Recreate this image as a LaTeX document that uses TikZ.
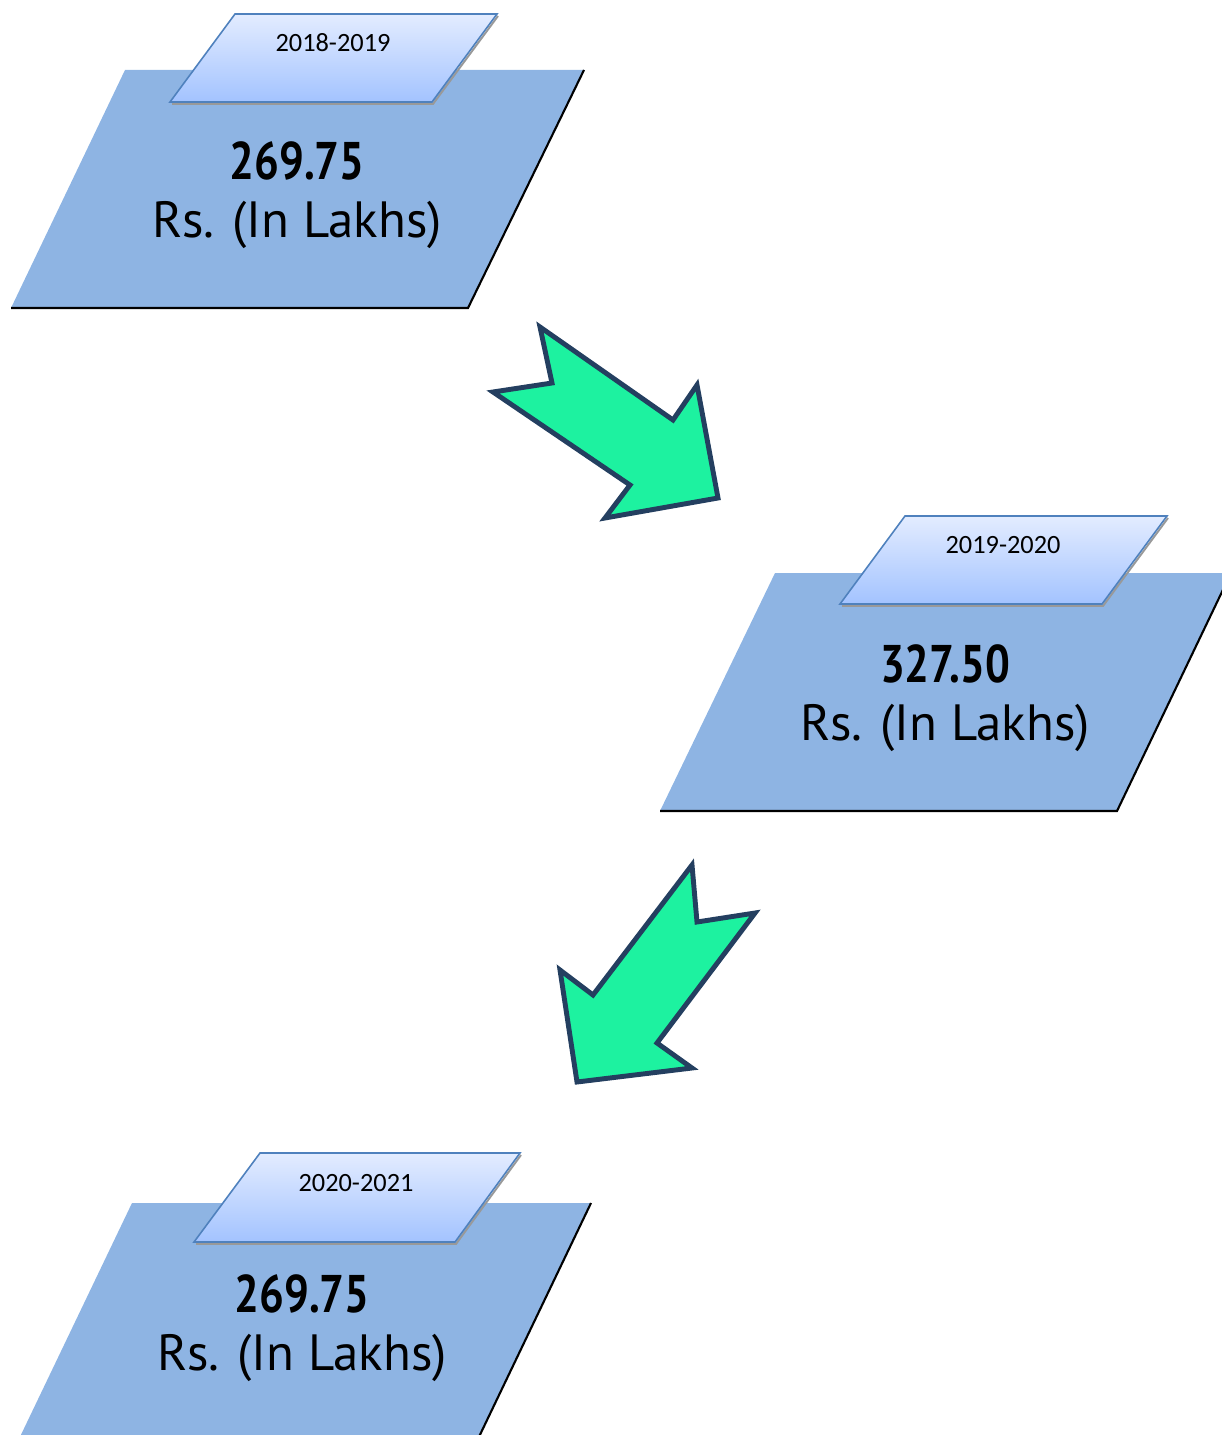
\documentclass[tikz,border=0pt]{standalone}
\usepackage{graphicx}
\usepackage{fontspec}
\setmainfont{PT Sans}
\newfontfamily\yearfont{Carlito}
\definecolor{slabblue}{HTML}{8EB4E3}
\definecolor{tabtop}{HTML}{E3ECFF}
\definecolor{tabbot}{HTML}{A3C3FF}
\definecolor{tabline}{HTML}{4F81BD}
\definecolor{arrowgreen}{HTML}{1DF2A0}
\definecolor{arrowline}{HTML}{243F60}
\begin{document}
\begin{tikzpicture}[x=0.02cm,y=-0.02cm,
  slab/.style={fill=slabblue},
  slabedge/.style={draw=black,line width=1.2pt},
  tab/.style={top color=tabtop,bottom color=tabbot,draw=tabline,line width=0.9pt},
  tabshadow/.style={draw=black!40,line width=1.1pt},
  bigarrow/.style={fill=arrowgreen,draw=arrowline,line width=2.8pt,line join=miter},
  amount/.style={font=\fontsize{29}{33}\selectfont,align=center},
  year/.style={font=\yearfont\fontsize{15}{17}\selectfont}]
  \useasboundingbox (0,0) rectangle (1222,1435);
  \clip (0,0) rectangle (1222,1435);

  % 2018-2019
  \fill[slab] (125,70) -- (584,70) -- (468,308) -- (11,308) -- cycle;
  \draw[slabedge] (584,70) -- (468,308) -- (11,308);
  \draw[tabshadow] (498,16) -- (433,104) -- (172,104);
  \shade[tab] (235,14) -- (497,14) -- (432,102) -- (170,102) -- cycle;
  \node[year] (yearA) at (333,43) {2018-2019};
  \node[amount] (amountA) at (297,195) {\scalebox{0.86}[1.04]{\bfseries 269.75}\\Rs. (In Lakhs)};

  % 2019-2020
  \fill[slab] (775,573) -- (1231,573) -- (1117,811) -- (660,811) -- cycle;
  \draw[slabedge] (1231,573) -- (1117,811) -- (660,811);
  \draw[tabshadow] (1168,518) -- (1103,606) -- (842,606);
  \shade[tab] (905,516) -- (1167,516) -- (1102,604) -- (840,604) -- cycle;
  \node[year] (yearB) at (1003,545) {2019-2020};
  \node[amount] (amountB) at (945,698) {\scalebox{0.86}[1.04]{\bfseries 327.50}\\Rs. (In Lakhs)};

  % 2020-2021
  \fill[slab] (132,1203) -- (591,1203) -- (477,1441) -- (18,1441) -- cycle;
  \draw[slabedge] (591,1203) -- (477,1441) -- (18,1441);
  \draw[tabshadow] (521,1155) -- (456,1244) -- (196,1244);
  \shade[tab] (260,1153) -- (520,1153) -- (455,1242) -- (194,1242) -- cycle;
  \node[year] (yearC) at (356,1183) {2020-2021};
  \node[amount] (amountC) at (302,1328) {\scalebox{0.86}[1.04]{\bfseries 269.75}\\Rs. (In Lakhs)};

  % arrows
  \filldraw[bigarrow]
    (540,327) -- (552,383) -- (493,392) -- (630,485) -- (605,518) --
    (718,498) -- (697,385) -- (673,420) -- cycle;
  \filldraw[bigarrow]
    (692,865) -- (697,922) -- (755,913) -- (657,1043) -- (692,1068) --
    (577,1082) -- (560,970) -- (593,995) -- cycle;
\end{tikzpicture}
\end{document}
